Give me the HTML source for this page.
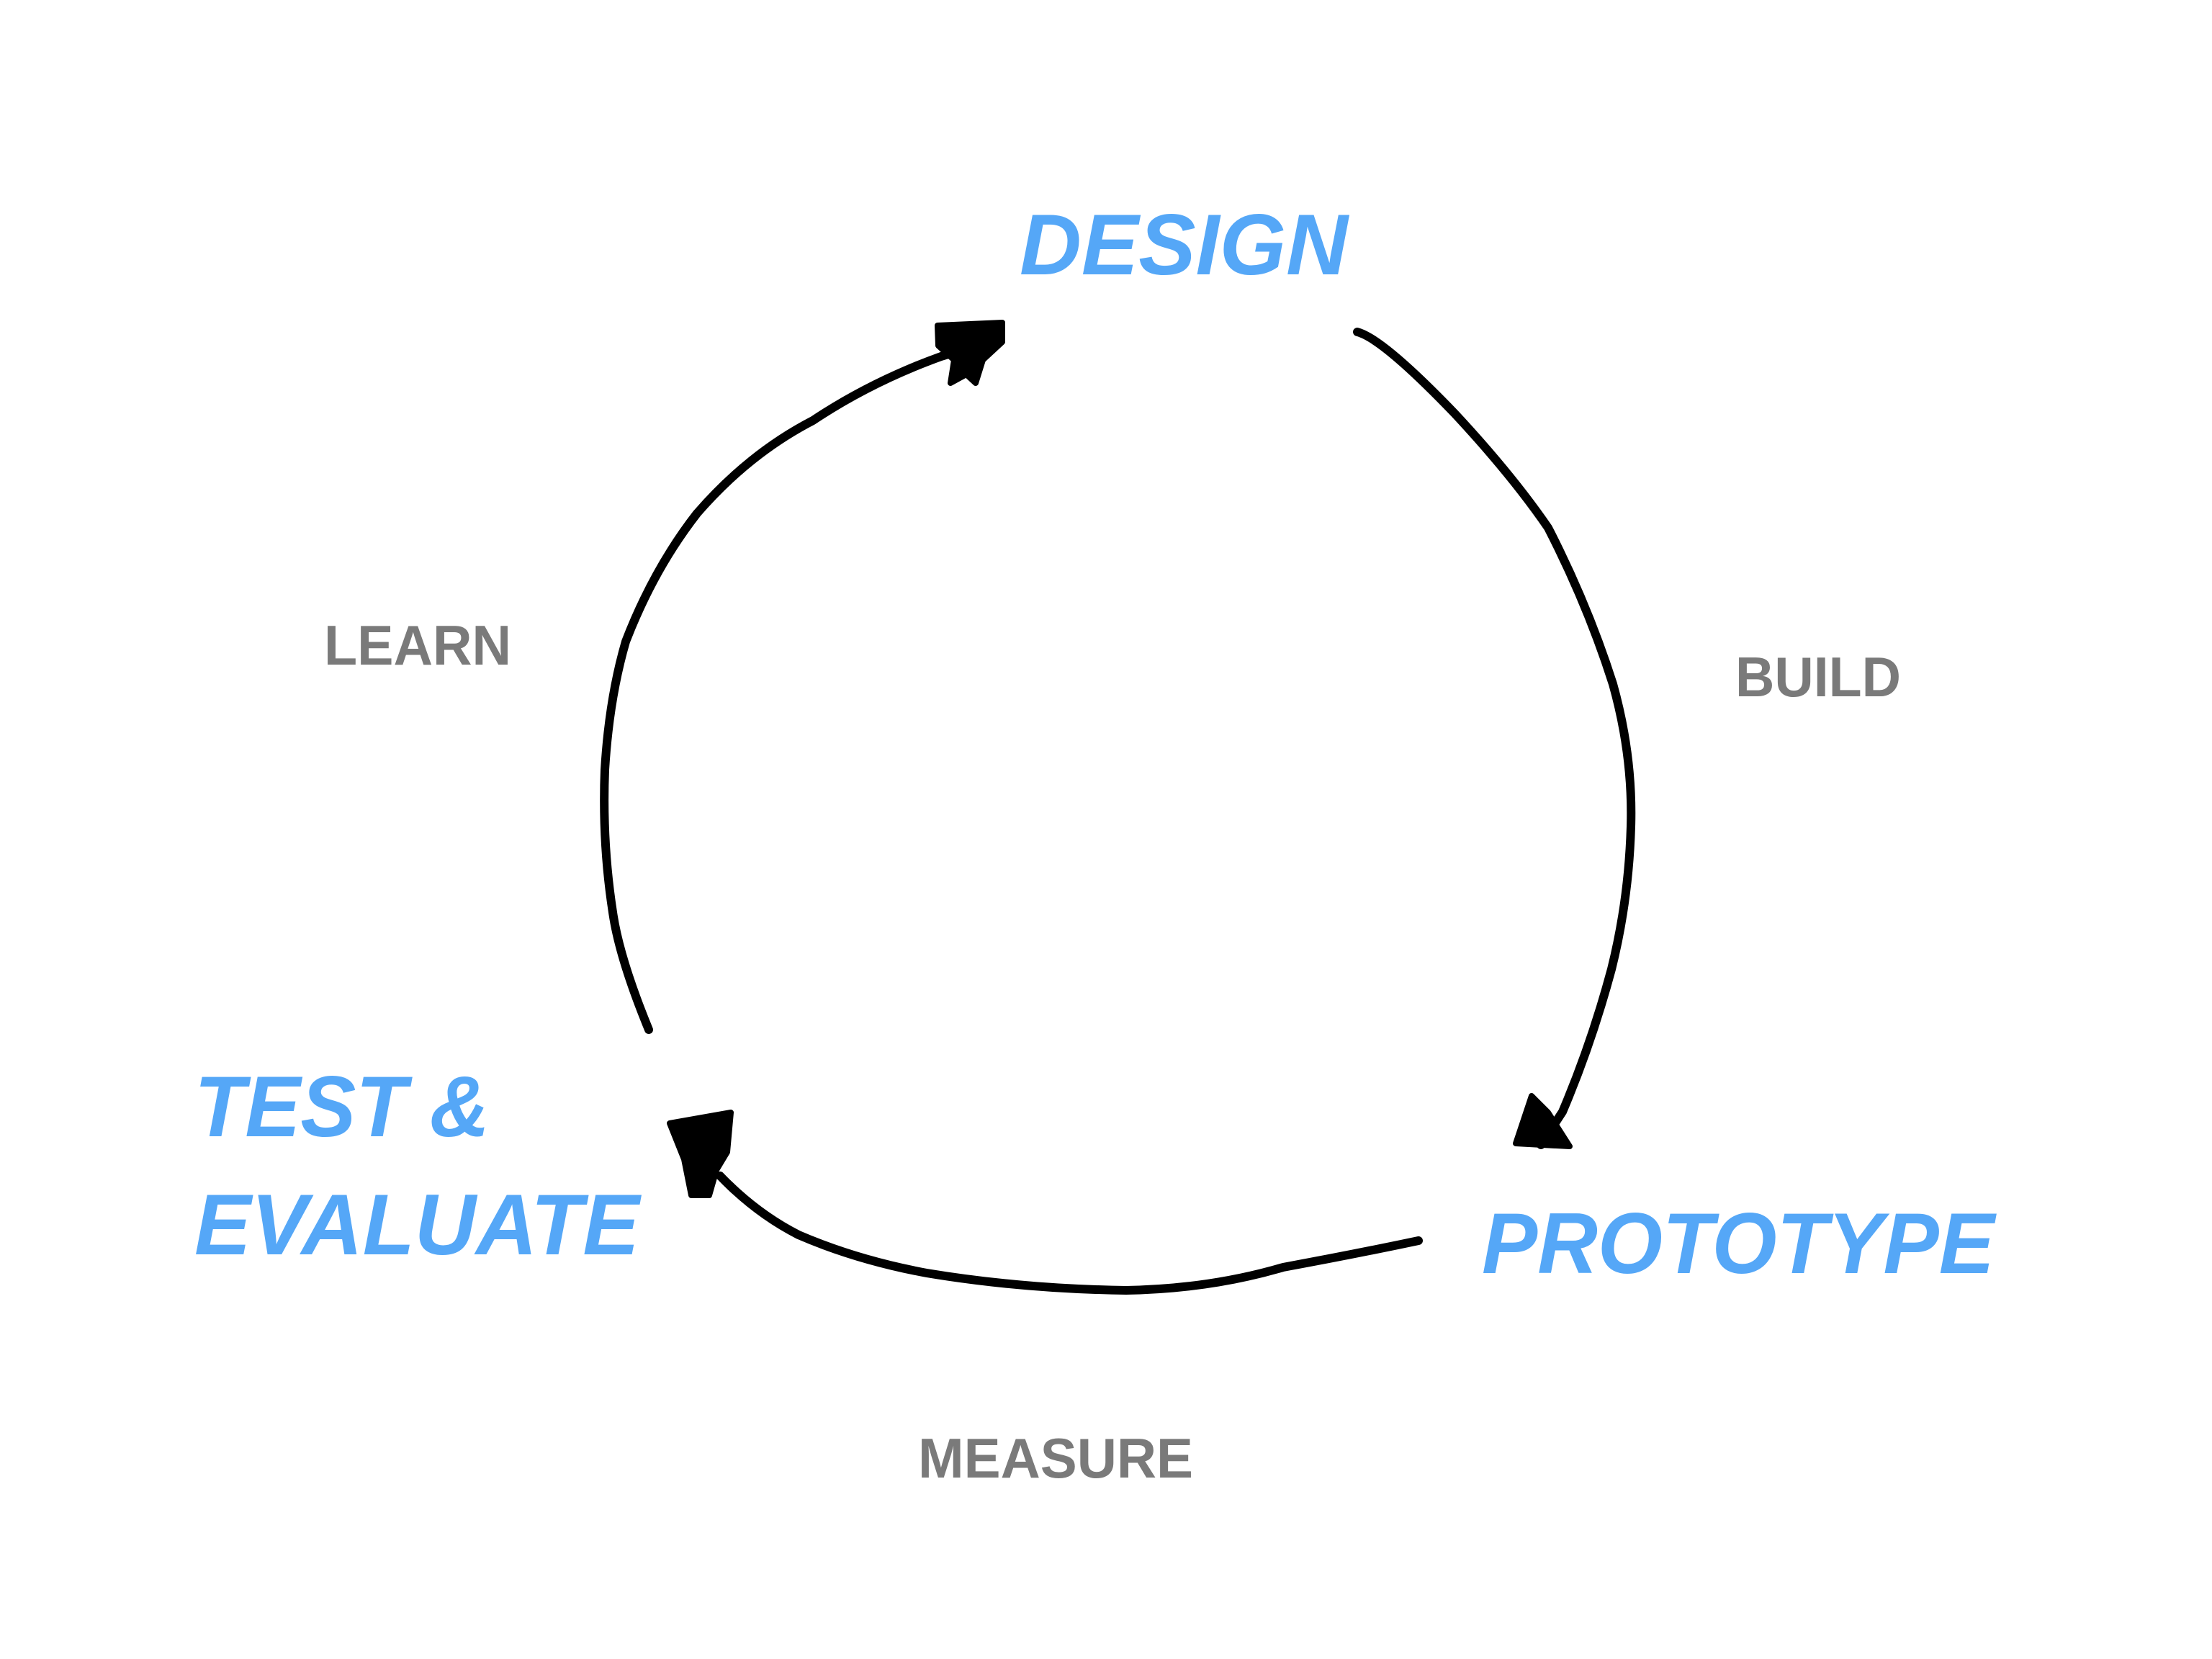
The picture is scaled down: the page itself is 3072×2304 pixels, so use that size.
<!DOCTYPE html>
<html><head><meta charset="utf-8"><style>html,body{margin:0;padding:0;background:#fff;}svg{display:block}</style></head>
<body>
<svg width="3072" height="2304" viewBox="0 0 3072 2304" xmlns="http://www.w3.org/2000/svg">
<rect width="3072" height="2304" fill="#fff"/>
<g font-family="Liberation Sans, sans-serif" font-weight="bold" font-style="italic" fill="#55a7f7" font-size="120">
<text x="1416" y="381" textLength="456" lengthAdjust="spacingAndGlyphs">DESIGN</text>
<text x="2058" y="1768" textLength="712" lengthAdjust="spacingAndGlyphs">PROTOTYPE</text>
<text x="270" y="1578" textLength="410" lengthAdjust="spacingAndGlyphs">TEST &amp;</text>
<text x="270" y="1742" textLength="618" lengthAdjust="spacingAndGlyphs">EVALUATE</text>
</g>
<g font-family="Liberation Sans, sans-serif" font-weight="bold" fill="#7a7a7a" font-size="78">
<text x="450" y="923" textLength="260" lengthAdjust="spacingAndGlyphs">LEARN</text>
<text x="2410" y="967" textLength="230" lengthAdjust="spacingAndGlyphs">BUILD</text>
<text x="1275" y="2052" textLength="382" lengthAdjust="spacingAndGlyphs">MEASURE</text>
</g>
<g fill="none" stroke="#000" stroke-width="12" stroke-linecap="round" stroke-linejoin="round">
<path d="M1885 461 Q1920 470 2020 574 Q2100 660 2150 733 Q2205 840 2240 950 Q2268 1050 2265 1148 Q2262 1250 2238 1346 Q2210 1450 2170 1544 L2140 1590"/>
<path d="M1970 1723 Q1880 1742 1782 1760 Q1680 1790 1564 1792 Q1420 1790 1287 1768 Q1190 1750 1109 1715 Q1050 1685 1000 1633"/>
<path d="M901 1430 Q860 1330 851 1267 Q836 1170 840 1069 Q846 970 869 891 Q908 790 968 713 Q1040 630 1129 584 Q1210 530 1307 495 L1340 485"/>
</g>
<g fill="#000" stroke="#000" stroke-width="8" stroke-linejoin="round">
<polygon points="2127,1522 2105,1588 2180,1592 2150,1545"/>
<polygon points="930,1560 1015,1545 1010,1600 995,1625 985,1660 960,1660 950,1610"/>
<polygon points="1302,452 1392,448 1392,475 1365,500 1355,532 1342,520 1320,532 1325,500 1303,480"/>
</g>
</svg>
</body></html>
